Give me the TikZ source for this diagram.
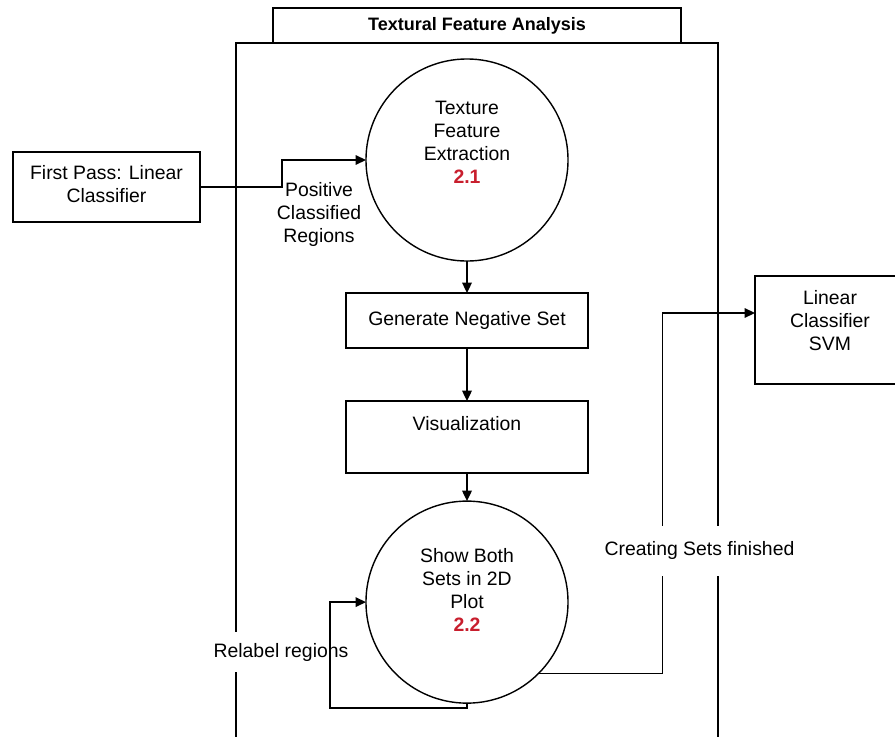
\documentclass[tikz,border=0pt]{standalone}
\usepackage{fontspec}
\setmainfont{Liberation Sans}
\usetikzlibrary{arrows.meta, positioning}
\definecolor{numred}{RGB}{200,30,45}
\newcommand{\stepno}[1]{\textcolor{numred}{\textbf{#1}}}

\begin{document}
\begin{tikzpicture}[
    x=0.025cm, y=-0.025cm,
    line width=1pt,
    node distance=0.8cm,
    every node/.style={font=\fontsize{13.8}{16.4}\selectfont, align=center, inner sep=0pt, outer sep=0pt},
    box/.style={draw, minimum width=6.05cm},
    proc/.style={draw, circle, minimum size=5.05cm},
    txt/.style={anchor=north},
    arrow/.style={-{Triangle[length=2.6mm, width=2.4mm]}},
    lbl/.style={fill=white, inner xsep=2pt}
  ]
  \useasboundingbox (0,0) rectangle (895,737);

  % Frame with its title tab
  \node (panel) [draw, anchor=north, minimum width=12.05cm, minimum height=17.7cm] at (477,43) {};
  \node (tab) [draw, above=0pt of panel, minimum width=10.2cm, minimum height=0.875cm,
    font=\fontsize{12.8}{15}\selectfont\bfseries] {Textural Feature Analysis};

  % Outer boxes
  \node (first) [box, minimum width=4.675cm, minimum height=1.75cm,
    label={[txt, yshift=-0.325cm]north:{First Pass: Linear\\Classifier}}] at (106.5,187) {};
  \node (svm) [box, minimum width=3.75cm, minimum height=2.7cm,
    label={[txt, yshift=-0.35cm]north:{Linear\\Classifier\\SVM}}] at (830,330) {};

  % Main chain
  \node (tex) [proc, label={[anchor=center, yshift=0.44cm]center:{Texture\\Feature\\Extraction\\\stepno{2.1}}}] at (467,160) {};
  \node (gen) [box, minimum height=1.375cm, below=of tex] {Generate Negative Set};
  \node (vis) [box, minimum height=1.8cm, below=1.325cm of gen,
    label={[txt, yshift=-0.375cm]north:{Visualization}}] {};
  \node (plot) [proc, below=0.7cm of vis,
    label={[anchor=center, yshift=0.3cm]center:{Show Both\\Sets in 2D\\Plot\\\stepno{2.2}}}] {};

  % Label over the frame edge
  \node (relbl) [lbl, inner ysep=0.27cm] at (281,652) {Relabel regions};

  % Connectors
  \draw[arrow] (first.east) -- ++(82,0)
    node[anchor=north, xshift=0.925cm, yshift=0.125cm] (poslbl) {Positive\\Classified\\Regions}
    |- (tex.west);
  \draw[arrow] (tex) -- (gen);
  \draw[arrow] (gen) -- (vis);
  \draw[arrow] (vis) -- (plot);
  \draw[arrow] (plot.south) -- ++(0,5) -| ([xshift=-0.9cm]plot.west) -- (plot.west);
  \draw[arrow] (plot.south east) -- ++(124,0) |- ([yshift=0.425cm]svm.west)
    node[lbl, pos=0.17, xshift=0.925cm, inner ysep=0.4cm] (crlbl) {Creating Sets finished};
\end{tikzpicture}
\end{document}
